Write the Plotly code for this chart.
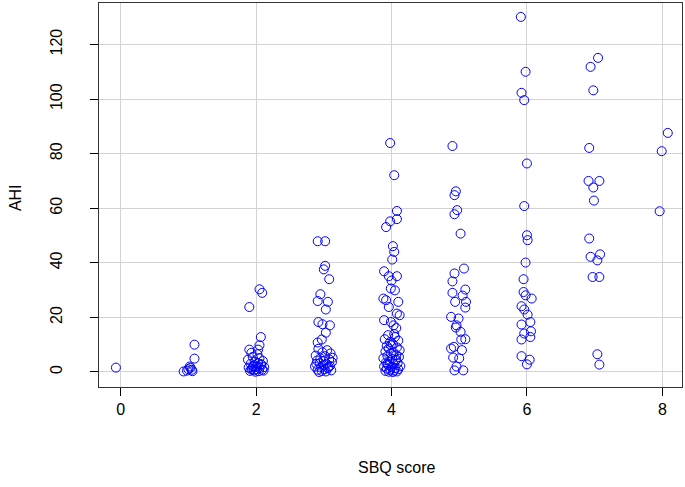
import plotly.graph_objects as go

# SBQ score (jittered as plotted) and AHI, one pair of lists per score
sbq_0 = [-0.07]
ahi_0 = [1.6]

sbq_1 = [0.93, 0.98, 1.00, 1.03, 1.05, 1.02, 1.06, 1.09, 1.09]
ahi_1 = [0.2, 0.5, 1.0, 1.5, 0.8, 2.0, 0.3, 10.0, 4.9]

sbq_2 = [1.90, 2.05, 2.09, 2.07, 2.05, 2.03, 1.90, 1.93, 2.02, 1.95, 2.05, 1.88,
         2.10, 1.98, 2.03, 1.92, 2.08, 1.96, 2.00, 2.12, 1.89, 2.05, 1.94, 2.01,
         2.09, 1.97, 1.91, 2.04, 2.11, 1.99, 1.95, 2.07, 1.93]
ahi_2 = [23.8, 30.3, 29.0, 12.8, 9.8, 8.2, 8.2, 7.0, 6.5, 5.5, 5.0, 4.5,
         4.0, 3.8, 3.2, 3.0, 2.6, 2.2, 2.0, 1.8, 1.6, 1.4, 1.2, 1.0,
         0.8, 0.6, 0.4, 0.3, 0.5, 0.1, 1.8, 2.9, 0.9]

sbq_3 = [2.91, 3.02, 3.02, 3.00, 3.08, 2.95, 2.91, 3.06, 3.03, 2.92, 2.98, 3.09,
         3.03, 2.97, 2.91, 2.92, 3.05, 2.98, 3.10, 2.88, 3.02, 2.95, 3.08, 2.90,
         3.00, 3.12, 2.94, 3.04, 2.99, 3.09, 2.87, 2.96, 3.06, 3.01, 2.91, 3.11,
         2.97, 3.03, 2.93, 3.07, 2.89, 3.13]
ahi_3 = [47.9, 47.9, 38.9, 37.6, 34.0, 28.5, 26.0, 25.7, 22.9, 18.3, 17.5, 17.1,
         14.4, 11.9, 10.8, 8.5, 8.0, 7.2, 6.8, 6.0, 5.8, 5.0, 4.6, 4.2,
         4.0, 3.6, 3.2, 3.0, 2.5, 2.2, 2.0, 1.6, 1.4, 1.0, 0.8, 0.6,
         0.4, 0.2, 0.0, 1.9, 3.0, 5.2]

sbq_4 = [3.98, 4.04, 4.08, 4.08, 3.98, 3.92, 4.02, 4.04, 4.01, 3.89, 3.96, 4.08,
         4.00, 3.99, 4.05, 3.88, 3.92, 4.10, 3.96, 4.08, 4.12, 3.89, 3.99, 4.03,
         4.07, 3.95, 4.05, 3.90, 4.10, 3.98, 4.02, 3.93, 4.08, 3.96, 4.12, 3.91,
         4.03, 3.99, 4.07, 3.94, 4.11, 3.88, 4.01, 4.06, 3.97, 3.92, 4.09, 4.03,
         3.95, 4.13, 3.89, 4.00, 4.05, 3.93, 4.10, 3.98, 4.04, 3.91, 4.08, 3.96,
         4.02, 3.94, 4.07, 3.99, 4.04]
ahi_4 = [83.9, 72.1, 59.0, 56.0, 55.2, 53.1, 46.1, 44.0, 41.2, 36.9, 35.1, 35.1,
         33.5, 30.6, 29.9, 26.9, 26.3, 25.7, 23.8, 21.4, 20.8, 19.0, 18.3, 17.1,
         16.1, 13.5, 12.8, 12.0, 11.5, 11.0, 10.2, 9.5, 9.0, 8.6, 8.0, 7.5,
         7.2, 6.8, 6.2, 5.8, 5.5, 5.0, 4.8, 4.2, 3.9, 3.5, 3.2, 2.9,
         2.5, 2.2, 2.0, 1.8, 1.4, 1.2, 1.0, 0.8, 0.5, 0.4, 0.2, 0.1,
         0.0, 3.0, 4.5, 9.8, 13.9]

sbq_5 = [4.90, 4.95, 4.93, 4.97, 4.93, 5.02, 5.07, 4.93, 4.90, 5.09, 4.90, 5.05,
         4.94, 5.10, 5.09, 4.88, 4.99, 4.96, 5.02, 5.09, 4.88, 5.04, 4.91, 5.00,
         4.93, 5.06, 4.96, 4.95, 5.03, 4.92]
ahi_5 = [82.8, 66.2, 64.8, 59.3, 57.8, 50.7, 37.9, 36.1, 33.2, 30.2, 29.0, 28.0,
         25.7, 25.7, 23.6, 20.2, 19.6, 17.1, 14.7, 12.0, 8.6, 8.0, 5.3, 5.0,
         0.6, 0.6, 2.0, 16.3, 11.9, 9.2]

sbq_6 = [5.91, 5.98, 5.92, 5.96, 6.00, 5.96, 6.00, 6.01, 5.98, 5.95, 5.95, 5.98,
         6.07, 5.92, 5.96, 6.01, 5.92, 6.05, 6.06, 5.96, 6.05, 5.92, 5.92, 6.04,
         6.00]
ahi_6 = [130.1, 110.0, 102.3, 99.6, 76.4, 60.8, 50.1, 48.3, 40.1, 34.0, 29.3, 28.1,
         26.9, 24.1, 22.9, 21.0, 17.4, 18.3, 14.9, 14.1, 12.8, 11.9, 5.8, 4.5,
         2.8]

sbq_7 = [7.05, 6.94, 6.98, 6.92, 6.91, 7.07, 6.98, 6.99, 6.92, 6.94, 7.08, 7.04,
         6.97, 7.07, 7.04, 7.07]
ahi_7 = [115.1, 111.8, 103.2, 82.1, 70.0, 70.0, 67.6, 62.8, 48.9, 42.2, 43.1, 40.9,
         34.8, 34.8, 6.5, 2.7]

sbq_8 = [8.08, 7.99, 7.96]
ahi_8 = [87.6, 80.9, 58.9]

sbq = sbq_0 + sbq_1 + sbq_2 + sbq_3 + sbq_4 + sbq_5 + sbq_6 + sbq_7 + sbq_8
ahi = ahi_0 + ahi_1 + ahi_2 + ahi_3 + ahi_4 + ahi_5 + ahi_6 + ahi_7 + ahi_8

x_ticks = [0, 2, 4, 6, 8]
y_ticks = [0, 20, 40, 60, 80, 100, 120]

fig = go.Figure()
fig.add_trace(go.Scatter(
    x=sbq, y=ahi,
    mode="markers",
    marker=dict(symbol="circle-open", size=9, color="#0000FF", line=dict(width=1, color="#0000FF")),
    showlegend=False,
    hoverinfo="skip",
))

axis_font = dict(family="Liberation Sans, Arial, sans-serif", size=16, color="#000000")

fig.update_layout(
    width=685, height=487,
    margin=dict(l=99, r=3, t=3, b=100),
    paper_bgcolor="white",
    plot_bgcolor="white",
    font=axis_font,
    showlegend=False,
)
fig.update_xaxes(
    range=[-0.32, 8.29],
    tickvals=x_ticks,
    ticks="outside", ticklen=8, tickcolor="#000000",
    showgrid=True, gridcolor="#D3D3D3", gridwidth=1,
    zeroline=False,
    showline=True, linecolor="#333333", linewidth=1, mirror=True,
    tickfont=axis_font,
    automargin=False,
)
fig.update_yaxes(
    range=[-5.5, 135.2],
    tickvals=y_ticks,
    tickangle=-90,
    ticks="outside", ticklen=8, tickcolor="#000000",
    ticklabelstandoff=22,
    showgrid=True, gridcolor="#D3D3D3", gridwidth=1,
    zeroline=False,
    showline=True, linecolor="#333333", linewidth=1, mirror=True,
    tickfont=axis_font,
    automargin=False,
)

# axis titles placed like R's mtext lines
fig.add_annotation(text="SBQ score", xref="paper", yref="paper", x=0.511, y=-0.209,
                   showarrow=False, font=axis_font, xanchor="center", yanchor="middle")
fig.add_annotation(text="AHI", xref="paper", yref="paper", x=-0.144, y=0.492,
                   showarrow=False, font=axis_font, textangle=-90,
                   xanchor="center", yanchor="middle")

# drop the page's default body margin so the figure sits at the window corner
fig.write_html(
    "out.html",
    config={"displayModeBar": False},
    post_script="document.body.style.margin='0';",
)
